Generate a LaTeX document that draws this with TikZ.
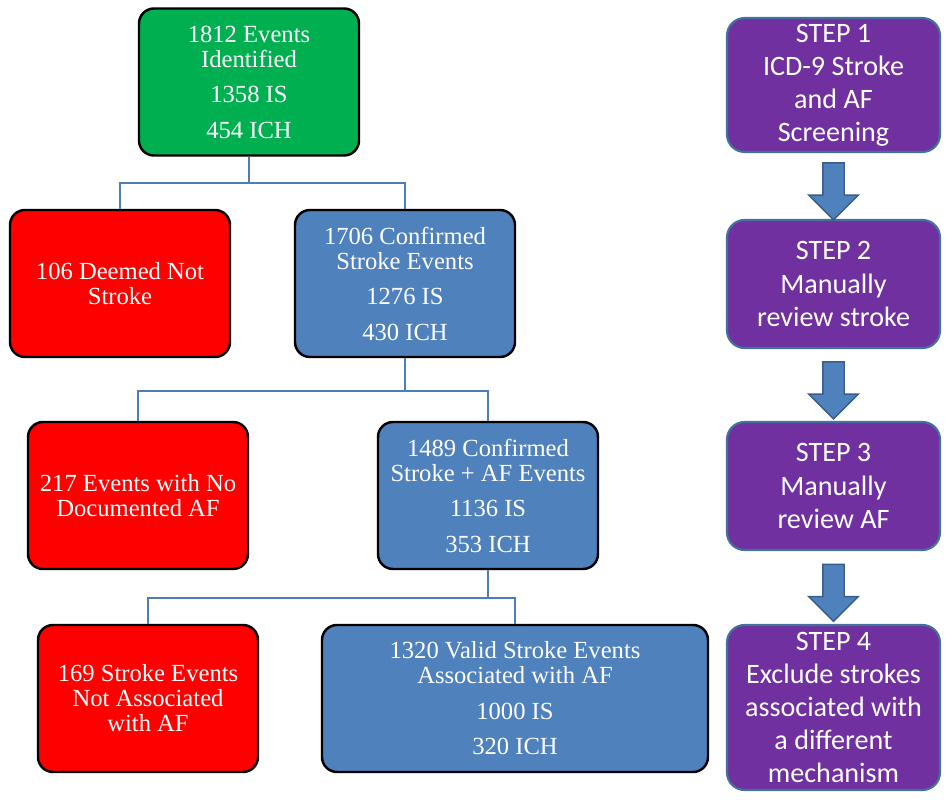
\documentclass[tikz,border=0pt]{standalone}
\usepackage{fontspec}
\setmainfont{Liberation Serif}
\newfontfamily\stepfont{Carlito}
\usetikzlibrary{shapes.arrows, calc}
\definecolor{EventGreen}{HTML}{00B050}
\definecolor{EventRed}{HTML}{FF0000}
\definecolor{EventBlue}{HTML}{4F81BD}
\definecolor{StepPurple}{HTML}{7030A0}
\definecolor{StepEdge}{HTML}{41719C}
\definecolor{LinkBlue}{HTML}{4A7EBB}
\definecolor{ArrowEdge}{HTML}{385D8A}

\begin{document}
\begin{tikzpicture}[
    box/.style={draw=black, line width=1.4pt, rounded corners=0.3cm, text=white, align=center, minimum width=4.4cm, minimum height=2.94cm, font=\fontsize{14}{14.2}\selectfont},
    stepbox/.style={draw=StepEdge, line width=1.2pt, fill=StepPurple, rounded corners=0.35cm, text=white, align=center, minimum width=4.26cm, font=\stepfont\fontsize{16}{18.8}\selectfont},
    link/.style={LinkBlue, line width=1.1pt},
    down/.style={single arrow, draw=ArrowEdge, fill=EventBlue, line width=0.8pt, rotate=-90, inner sep=0pt, text height=0.4cm, text depth=0pt, minimum height=1.14cm, single arrow head extend=0.28cm}
]
\useasboundingbox (0,0) rectangle (18.94,-16);

% event counts
\node[box, fill=EventGreen] (found) at (4.98,-1.64) {1812 Events\\Identified\\[6pt]1358 IS\\[6pt]454 ICH};
\node[box, fill=EventRed] (notstroke) at (2.4,-5.67) {106 Deemed Not\\Stroke};
\node[box, fill=EventBlue] (stroke) at (8.1,-5.67) {1706 Confirmed\\Stroke Events\\[6pt]1276 IS\\[6pt]430 ICH};
\node[box, fill=EventRed] (noaf) at (2.76,-9.91) {217 Events with No\\Documented AF};
\node[box, fill=EventBlue] (strokeaf) at (9.76,-9.91) {1489 Confirmed\\Stroke + AF Events\\[6pt]1136 IS\\[6pt]353 ICH};
\node[box, fill=EventRed] (other) at (2.96,-13.97) {169 Stroke Events\\Not Associated\\with AF};
\node[box, fill=EventBlue, minimum width=7.72cm] (valid) at (10.3,-13.97) {1320 Valid Stroke Events\\Associated with AF\\[6pt]1000 IS\\[6pt]320 ICH};

\draw[link] (found.south) -- ++(0,-0.52) -| (notstroke.north);
\draw[link] (found.south) -- ++(0,-0.52) -| (stroke.north);
\draw[link] (stroke.south) -- ++(0,-0.66) -| (noaf.north);
\draw[link] (stroke.south) -- ++(0,-0.66) -| (strokeaf.north);
\draw[link] (strokeaf.south) -- ++(0,-0.56) -| (other.north);
\draw[link] (strokeaf.south) -- ++(0,-0.56) -| (valid.north);

% steps
\node[stepbox, minimum height=2.6cm] (step1) at (16.67,-1.7) {STEP 1\\ICD-9 Stroke\\and AF\\Screening};
\node[stepbox, minimum height=2.56cm] (step2) at (16.67,-5.68) {STEP 2\\Manually\\review stroke};
\node[stepbox, minimum height=2.56cm] (step3) at (16.67,-9.72) {STEP 3\\Manually\\review AF};
\node[stepbox, minimum height=3.3cm] (step4) at (16.67,-14.15) {STEP 4\\Exclude strokes\\associated with\\a different\\mechanism};

\node[down] (arrow1) at ($(step1.south)!0.5!(step2.north)$) {};
\node[down] (arrow2) at ($(step2.south)!0.5!(step3.north)$) {};
\node[down] (arrow3) at ($(step3.south)!0.5!(step4.north)$) {};
\end{tikzpicture}
\end{document}
